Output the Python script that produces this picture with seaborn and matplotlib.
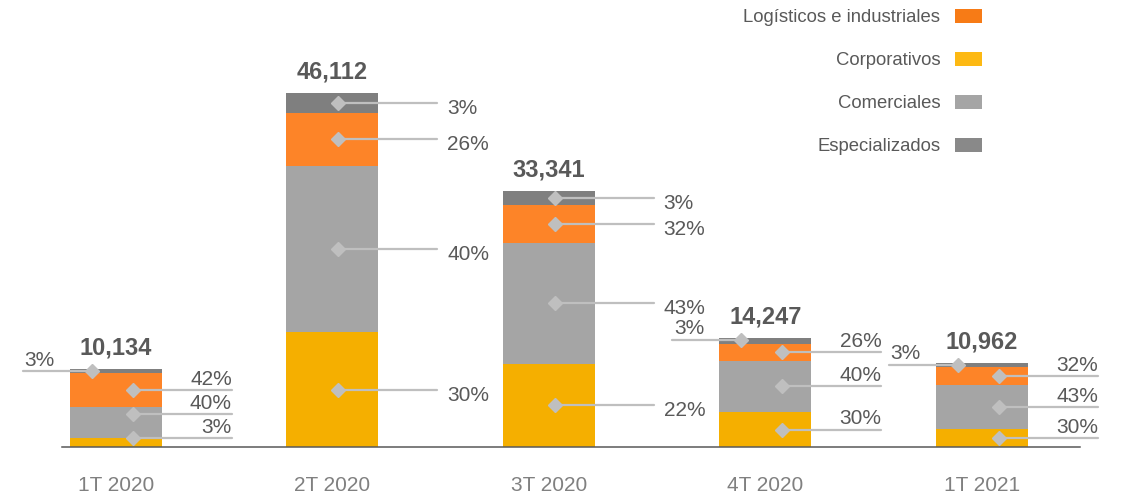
import numpy as np
import seaborn as sns
import matplotlib.pyplot as plt
from matplotlib.patches import Patch

categories = ["1T 2020", "2T 2020", "3T 2020", "4T 2020", "1T 2021"]
totals = [10134, 46112, 33341, 14247, 10962]

# segment values, bottom to top
corporativos = [1212, 14938, 10861, 4549, 2314]
comerciales = [3966, 21692, 15661, 6705, 5725]
logisticos = [4406, 6884, 4925, 2155, 2314]
especializados = [550, 2598, 1894, 838, 609]

# percentage labels shown next to each segment
pct_corporativos = ["3%", "30%", "22%", "30%", "30%"]
pct_comerciales = ["40%", "40%", "43%", "40%", "43%"]
pct_logisticos = ["42%", "26%", "32%", "26%", "32%"]
pct_especializados = ["3%", "3%", "3%", "3%", "3%"]

legend_labels = ["Logísticos e industriales", "Corporativos", "Comerciales", "Especializados"]

YELLOW = "#F5AF00"
ORANGE = "#FD8428"
GRAY = "#A5A5A5"
DARK = "#7F7F7F"
MARK = "#BFBFBF"
TEXT = "#595959"

sns.set_theme(style="white")
plt.rcParams["font.family"] = ["Liberation Sans", "DejaVu Sans"]

fig = plt.figure(figsize=(11.22, 4.96), dpi=100)
ax = fig.add_axes([62 / 1122, 49 / 496, (1080 - 62) / 1122, 447 / 496])

y = np.array(corporativos)
g = np.array(comerciales)
o = np.array(logisticos)
d = np.array(especializados)
layers = [
    (y + g + o + d, DARK),
    (y + g + o, ORANGE),
    (y + g, GRAY),
    (y, YELLOW),
]
for vals, col in layers:
    sns.barplot(x=categories, y=vals, order=categories, color=col, width=0.425,
                saturation=1, errorbar=None, linewidth=0, ax=ax)

YMAX = 58200
ax.set_xlim(-0.249, 4.453)
ax.set_ylim(0, YMAX)
ax.set_yticks([])
ax.set_xlabel("")
ax.set_ylabel("")
ax.tick_params(axis="x", length=0, pad=21, labelsize=15, labelcolor="#808080")
sns.despine(ax=ax, left=True)
ax.spines["bottom"].set_color(TEXT)
ax.spines["bottom"].set_linewidth(1.1)

bounds = np.vstack([np.zeros(5), y, y + g, y + g + o, y + g + o + d])
pct_rows = [pct_corporativos, pct_comerciales, pct_logisticos, pct_especializados]
ux = 216.5             # pixels per category unit
py = YMAX / 447        # data units per pixel


def leader(xa, xb, yv):
    ax.plot([xa, xb], [yv, yv], color=MARK, lw=1.6, zorder=3, clip_on=False)


for i in range(len(categories)):
    top = bounds[4, i]
    ax.annotate(f"{totals[i]:,}", (i, top), xytext=(0, 15), textcoords="offset points",
                ha="center", va="center", fontsize=17, fontweight="bold", color=TEXT)
    tall = totals[i] > 20000
    prev = None
    for k in range(4):
        mid = (bounds[k, i] + bounds[k + 1, i]) / 2
        label = pct_rows[k][i]
        if tall:
            xd = i + 6 / ux
            xe = i + 105 / ux
            leader(xd, xe, mid)
            ax.plot([xd], [mid], marker="D", ms=7, color=MARK, zorder=4, clip_on=False)
            ax.annotate(label, (xe, mid), xytext=(7, -4), textcoords="offset points",
                        ha="left", va="center", fontsize=15, color=TEXT, annotation_clip=False)
        elif k == 3:
            yv = top - 2 * py
            xd = i - 24 / ux
            xs = i - 93 / ux
            leader(xs, xd, yv)
            ax.plot([xd], [yv], marker="D", ms=7, color=MARK, zorder=4, clip_on=False)
            ax.annotate(label, (xs, yv), xytext=(1, 1), textcoords="offset points",
                        ha="left", va="bottom", fontsize=15, color=TEXT, annotation_clip=False)
        else:
            # keep stacked labels of short bars apart
            yv = max(mid, 9 * py) if prev is None else max(mid, prev + 24 * py)
            prev = yv
            xd = i + 17 / ux
            xe = i + 116 / ux
            leader(xd, xe, yv)
            ax.plot([xd], [yv], marker="D", ms=7, color=MARK, zorder=4, clip_on=False)
            ax.annotate(label, (xe, yv), xytext=(0, 1), textcoords="offset points",
                        ha="right", va="bottom", fontsize=15, color=TEXT, annotation_clip=False)

handles = [Patch(facecolor=c, edgecolor="none") for c in ["#F77B16", "#FDB913", "#A5A5A5", "#898989"]]
leg = fig.legend(handles, legend_labels, loc="upper right", bbox_to_anchor=(982 / 1122, 1 - 9 / 496),
                 frameon=False, markerfirst=False, fontsize=13.3, labelcolor=TEXT,
                 handlelength=1.46, handleheight=0.75, handletextpad=0.8, labelspacing=1.4,
                 borderpad=0, borderaxespad=0)

fig.savefig("out.png", dpi=100)
